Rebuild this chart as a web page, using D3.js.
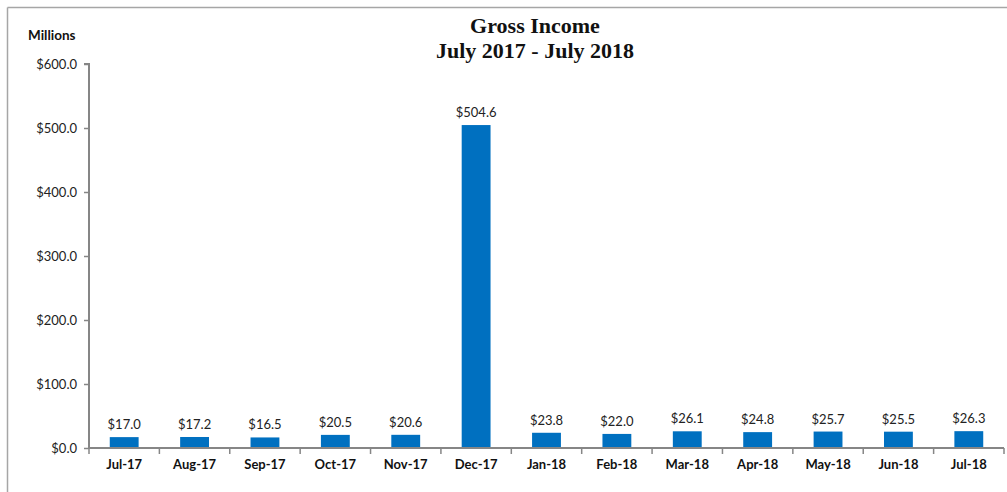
<!DOCTYPE html>
<html><head><meta charset="utf-8">
<script src="https://cdn.jsdelivr.net/npm/d3@7"></script>
<style>body{margin:0;background:#fff;} svg{display:block;}</style>
</head><body>
<script>
const categories = ["Jul-17","Aug-17","Sep-17","Oct-17","Nov-17","Dec-17","Jan-18","Feb-18","Mar-18","Apr-18","May-18","Jun-18","Jul-18"];
const values = [17.0,17.2,16.5,20.5,20.6,504.6,23.8,22.0,26.1,24.8,25.7,25.5,26.3];
const yTicks = [0,100,200,300,400,500,600];
const titleLines = ["Gross Income","July 2017 - July 2018"];
const yUnit = "Millions";

(function(){
const W=1007,H=492;
const svg=d3.select("body").append("svg").attr("width",W).attr("height",H);
// border
svg.append("line").attr("x1",7.5).attr("x2",W).attr("y1",7.5).attr("y2",7.5).attr("stroke","#a6a6a6").attr("stroke-width",1.5);
svg.append("line").attr("x1",7.5).attr("x2",7.5).attr("y1",7.5).attr("y2",H).attr("stroke","#a6a6a6").attr("stroke-width",1.5);

const mLeft=89,mRight=1004,mTop=64,mBottom=448;
const x=d3.scaleBand().domain(categories).range([mLeft,mRight]).paddingInner(0.59).paddingOuter(0.295);
const y=d3.scaleLinear().domain([0,600]).range([mBottom,mTop]);
const font="Lato, 'Open Sans', 'Liberation Sans', sans-serif";

// bars
svg.selectAll("rect.bar").data(values).join("rect").attr("class","bar")
 .attr("x",(d,i)=>x(categories[i])).attr("width",x.bandwidth())
 .attr("y",d=>y(d)).attr("height",d=>mBottom-y(d)).attr("fill","#0070C0");
// value labels
svg.selectAll("text.val").data(values).join("text").attr("class","val")
 .attr("x",(d,i)=>x(categories[i])+x.bandwidth()/2).attr("y",d=>y(d)-8)
 .attr("text-anchor","middle").attr("font-family",font).attr("font-size",13).attr("fill","#222")
 .text(d=>"$"+d.toFixed(1));

// y axis
const yAxis=d3.axisLeft(y).tickValues(yTicks).tickFormat(d=>"$"+d.toFixed(1)).tickSize(5).tickPadding(7);
const gy=svg.append("g").attr("transform",`translate(${mLeft},0)`).call(yAxis);
gy.select(".domain").attr("stroke","#868686").attr("stroke-width",2).attr("d",`M-5,${mTop}H0V${mBottom}`);
gy.selectAll(".tick line").attr("stroke","#868686").attr("stroke-width",1.5);
gy.selectAll("text").attr("font-family",font).attr("font-size",13).attr("fill","#222");

// x axis
const step=x.step();
const gx=svg.append("g").attr("transform",`translate(0,${mBottom})`);
gx.append("line").attr("x1",mLeft).attr("x2",mRight).attr("y1",0).attr("y2",0).attr("stroke","#868686").attr("stroke-width",2);
const bounds=d3.range(categories.length+1).map(i=>mLeft+i*step);
gx.selectAll("line.tk").data(bounds).join("line").attr("class","tk")
 .attr("x1",d=>d).attr("x2",d=>d).attr("y1",0).attr("y2",6).attr("stroke","#868686").attr("stroke-width",1.5);
const xAxis=d3.axisBottom(x).tickSize(0).tickPadding(12);
const gx2=svg.append("g").attr("transform",`translate(0,${mBottom})`).call(xAxis);
gx2.select(".domain").remove();
gx2.selectAll("text").attr("font-family",font).attr("font-size",13).attr("font-weight","bold").attr("fill","#111");

// title
svg.append("text").attr("x",535).attr("y",33).attr("text-anchor","middle")
 .attr("font-family","'Liberation Serif','Times New Roman',serif").attr("font-weight","bold").attr("font-size",22).attr("fill","#111")
 .selectAll("tspan").data(titleLines).join("tspan").attr("x",535).attr("dy",(d,i)=>i?25:0).text(d=>d);
svg.append("text").attr("x",28).attr("y",40).attr("font-family",font).attr("font-weight","bold").attr("font-size",13.5).attr("fill","#111").text(yUnit);
})();
</script>
</body></html>
